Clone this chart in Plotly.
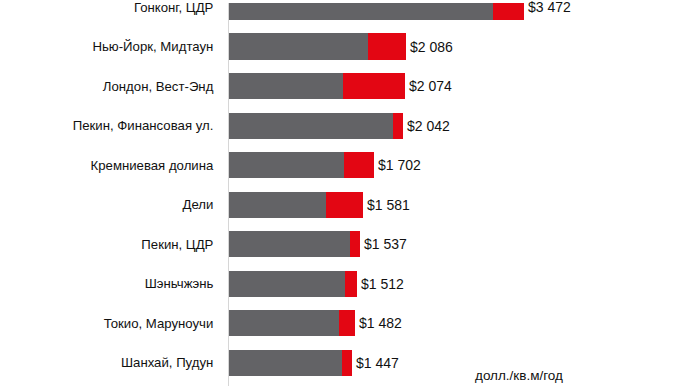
import plotly.graph_objects as go

cities = ["Гонконг, ЦДР", "Нью-Йорк, Мидтаун", "Лондон, Вест-Энд", "Пекин, Финансовая ул.",
          "Кремниевая долина", "Дели", "Пекин, ЦДР", "Шэньчжэнь", "Токио, Маруноучи", "Шанхай, Пудун"]
base_rent = [3101, 1631, 1346, 1927, 1357, 1140, 1419, 1363, 1290, 1331]
extra_cost = [371, 455, 728, 115, 345, 441, 118, 149, 192, 116]
total_labels = ["$3 472", "$2 086", "$2 074", "$2 042", "$1 702", "$1 581", "$1 537", "$1 512", "$1 482", "$1 447"]
unit_label = "долл./кв.м/год"

totals = [b + e for b, e in zip(base_rent, extra_cost)]

GRAY = "#636366"
RED = "#e30613"
FONT = "Liberation Sans, Arial, sans-serif"

fig = go.Figure()
fig.add_trace(go.Bar(y=cities, x=base_rent, orientation="h", marker=dict(color=GRAY, line_width=0),
                     width=0.66, hoverinfo="skip"))
fig.add_trace(go.Bar(y=cities, x=extra_cost, orientation="h", marker=dict(color=RED, line_width=0),
                     width=0.66, hoverinfo="skip"))

annotations = [
    dict(x=t, y=c, xref="x", yref="y", text=lbl, showarrow=False, xanchor="left",
         yanchor="middle", xshift=2, font=dict(family=FONT, size=14, color="#111111"))
    for c, t, lbl in zip(cities, totals, total_labels)
]
annotations.append(dict(text=unit_label, xref="paper", yref="paper", x=0.534, y=0.028,
                        xanchor="left", yanchor="middle", showarrow=False,
                        font=dict(family=FONT, size=13.5, color="#111111")))

fig.update_layout(
    width=686, height=386,
    margin=dict(l=229, r=0, t=0, b=0),
    barmode="stack",
    showlegend=False,
    plot_bgcolor="white",
    paper_bgcolor="white",
    font=dict(family=FONT, size=13.2, color="#111111"),
    xaxis=dict(range=[0, 5378], visible=False, showgrid=False, zeroline=False),
    yaxis=dict(type="category", categoryorder="array", categoryarray=cities,
               range=[9.586, -0.1], showgrid=False, zeroline=False,
               showline=True, linecolor="#d6d6d6", linewidth=1,
               ticks="", ticklabelstandoff=12,
               tickfont=dict(family=FONT, size=13.2, color="#111111")),
    annotations=annotations,
)

fig.write_html("out.html", config={"displayModeBar": False, "staticPlot": True},
               post_script="document.body.style.margin='0';document.body.style.overflow='hidden';")
